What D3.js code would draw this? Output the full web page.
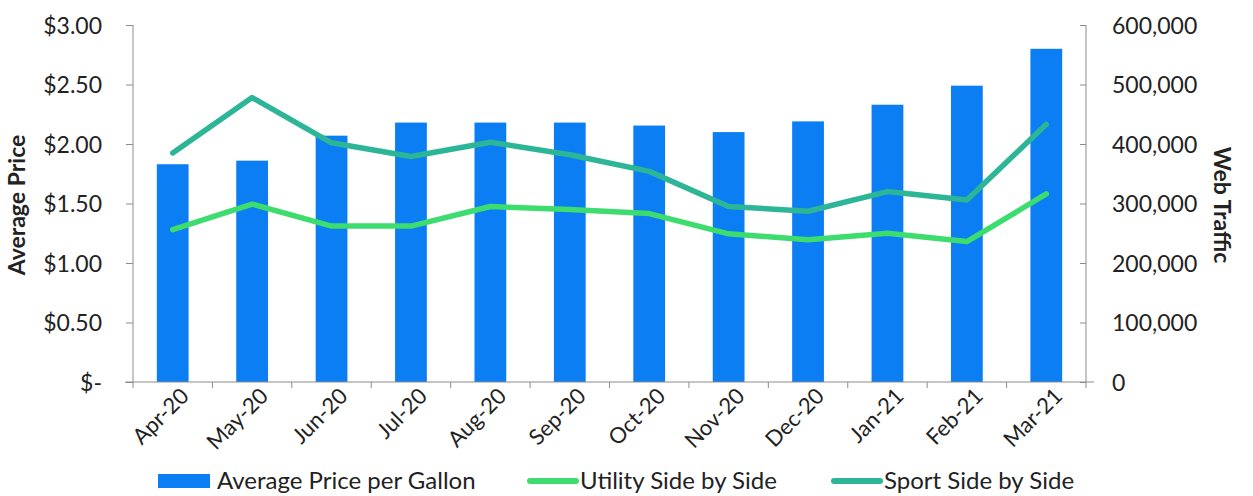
<!DOCTYPE html>
<html>
<head>
<meta charset="utf-8">
<script src="https://cdn.jsdelivr.net/npm/d3@7"></script>
<style>
  html, body { margin: 0; padding: 0; background: #fff; }
  svg text { font-family: Lato, "Open Sans", sans-serif; fill: #222; }
</style>
</head>
<body>
<svg id="chart" width="1253" height="496"></svg>
<script>
const months = ["Apr-20","May-20","Jun-20","Jul-20","Aug-20","Sep-20","Oct-20","Nov-20","Dec-20","Jan-21","Feb-21","Mar-21"];
const avgPrice = [1.83, 1.86, 2.07, 2.18, 2.18, 2.18, 2.155, 2.10, 2.19, 2.33, 2.49, 2.80];
const utility = [256000, 299000, 262000, 262000, 295000, 290000, 283000, 249000, 239000, 250000, 236000, 316000];
const sport = [385000, 478000, 402000, 379000, 403000, 382000, 354000, 295000, 287000, 320000, 306000, 433000];
const leftTicks = [0, 0.5, 1, 1.5, 2, 2.5, 3];
const rightTicks = [0, 100000, 200000, 300000, 400000, 500000, 600000];
const seriesNames = ["Average Price per Gallon", "Utility Side by Side", "Sport Side by Side"];
const colors = { bar: "#0a7ef2", utility: "#3ddc6e", sport: "#2db597", axis: "#8c8c8c" };

const svg = d3.select("#chart");
const pL = 133, pR = 1086, pT = 25, pB = 382;

const x = d3.scaleBand().domain(months).range([pL, pR]).paddingInner(0.6).paddingOuter(0.3);
const yL = d3.scaleLinear().domain([0, 3]).range([pB, pT]);
const yR = d3.scaleLinear().domain([0, 600000]).range([pB, pT]);

// bars
svg.append("g").selectAll("rect").data(months).join("rect")
  .attr("x", d => x(d))
  .attr("width", x.bandwidth())
  .attr("y", (d, i) => yL(avgPrice[i]))
  .attr("height", (d, i) => yL(0) - yL(avgPrice[i]))
  .attr("fill", colors.bar);

// lines
const line = d3.line()
  .x((d, i) => x(months[i]) + x.bandwidth() / 2)
  .y(d => yR(d));
[[utility, colors.utility], [sport, colors.sport]].forEach(([data, c]) => {
  svg.append("path").datum(data)
    .attr("d", line)
    .attr("fill", "none")
    .attr("stroke", c)
    .attr("stroke-width", 5.5)
    .attr("stroke-linejoin", "round")
    .attr("stroke-linecap", "round");
});

// left axis
const fmtL = v => v === 0 ? "$-" : "$" + d3.format(".2f")(v);
const gL = svg.append("g").attr("transform", `translate(${pL},0)`)
  .call(d3.axisLeft(yL).tickValues(leftTicks).tickFormat(fmtL).tickSize(7).tickPadding(24));
gL.selectAll("text").style("font-size", "23px").attr("dy", "0.35em");
gL.select(".domain").attr("stroke", colors.axis).attr("d", `M0,${pT}V${pB}`);
gL.selectAll(".tick line").attr("stroke", colors.axis);

// right axis
const gR = svg.append("g").attr("transform", `translate(${pR},0)`)
  .call(d3.axisRight(yR).tickValues(rightTicks).tickFormat(d3.format(",")).tickSize(0).tickPadding(26));
gR.selectAll("text").style("font-size", "23px").attr("dy", "0.35em");
gR.select(".domain").attr("stroke", colors.axis).attr("d", `M0,${pT}V${pB}`);
gR.selectAll(".tick").append("line").attr("x1", -6).attr("x2", 0).attr("stroke", colors.axis);

// x axis line and ticks at category boundaries
const xAxisG = svg.append("g");
xAxisG.append("line").attr("x1", pL - 8).attr("x2", pR + 8).attr("y1", pB).attr("y2", pB).attr("stroke", colors.axis);
const bounds = d3.range(months.length + 1).map(i => pL + i * (pR - pL) / months.length);
xAxisG.selectAll("line.t").data(bounds).join("line").attr("class", "t")
  .attr("x1", d => d).attr("x2", d => d).attr("y1", pB).attr("y2", pB + 6)
  .attr("stroke", colors.axis);

// x labels
svg.append("g").selectAll("text").data(months).join("text")
  .attr("transform", d => `translate(${x(d) + x.bandwidth() / 2 + 12},${pB + 10}) rotate(-45)`)
  .attr("text-anchor", "end")
  .attr("dy", "0.35em")
  .style("font-size", "22px")
  .text(d => d);

// axis titles
svg.append("text")
  .attr("transform", "translate(25,205) rotate(-90)")
  .attr("text-anchor", "middle")
  .style("font-size", "23px").style("font-weight", "bold")
  .text("Average Price");
svg.append("text")
  .attr("transform", "translate(1214,205) rotate(90)")
  .attr("text-anchor", "middle")
  .style("font-size", "23px").style("font-weight", "bold")
  .text("Web Traffic");

// legend
const legend = svg.append("g");
const legItems = [
  { name: seriesNames[0], type: "rect", color: colors.bar, x: 158 },
  { name: seriesNames[1], type: "line", color: colors.utility, x: 530 },
  { name: seriesNames[2], type: "line", color: colors.sport, x: 834 }
];
legItems.forEach(it => {
  if (it.type === "rect") {
    legend.append("rect").attr("x", it.x).attr("y", 474).attr("width", 52).attr("height", 14).attr("fill", it.color);
  } else {
    legend.append("line").attr("x1", it.x).attr("x2", it.x + 46).attr("y1", 481).attr("y2", 481)
      .attr("stroke", it.color).attr("stroke-width", 6).attr("stroke-linecap", "round");
  }
  legend.append("text").attr("x", it.x + (it.type === "rect" ? 59 : 50)).attr("y", 481)
    .attr("dy", "0.35em").style("font-size", "24px").text(it.name);
});
</script>
</body>
</html>
